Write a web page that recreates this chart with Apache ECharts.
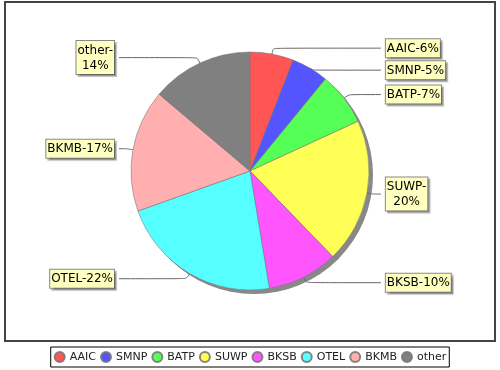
<!DOCTYPE html>
<html>
<head>
<meta charset="utf-8">
<script src="https://cdn.jsdelivr.net/npm/echarts@6/dist/echarts.min.js"></script>
<style>html,body{margin:0;padding:0;background:#fff;}#c{width:500px;height:370px;}</style>
</head>
<body>
<div id="c"></div>
<script>
const categories = ['AAIC','SMNP','BATP','SUWP','BKSB','OTEL','BKMB','other'];
const values = [5.9, 5.0, 7.2, 19.6, 9.6, 22.1, 16.6, 13.8];
const colors = ['#FF5555','#5555FF','#55FF55','#FFFF55','#FF55FF','#55FFFF','#FFAFAF','#808080'];
const wrappedLabels = ['SUWP','other'];

const chart = echarts.init(document.getElementById('c'), null, {renderer:'canvas'});
const font = 'DejaVu Sans';
chart.setOption({
  animation:false,
  backgroundColor:'#fff',
  color: colors,
  graphic:[{type:'rect', shape:{x:5,y:2,width:490,height:339}, style:{fill:'none', stroke:'#444', lineWidth:2}, z:-10}],
  legend:{
    data: categories, left:'center', top:347, icon:'circle', itemWidth:10, itemHeight:10, itemGap:4,
    borderColor:'#000', borderWidth:1, padding:[4,3], textStyle:{fontFamily:font, fontSize:11, color:'#222'}
  },
  series:[
    {
      type:'pie', silent:true, center:[254,175], radius:119, z:1,
      label:{show:false}, labelLine:{show:false},
      itemStyle:{color:'#888'}, data:[{value:1, name:'shadow'}], legendHoverLink:false
    },
    {
      type:'pie', center:[250,171], radius:119, startAngle:90, clockwise:true, z:2,
      itemStyle:{borderColor:'rgba(120,120,120,0.9)', borderWidth:0.6},
      avoidLabelOverlap:true,
      label:{
        show:true, alignTo:'labelLine', fontFamily:font, fontSize:12, color:'#000',
        backgroundColor:'#FFFFC0', borderColor:'#888', borderWidth:1, padding:[2,1,1,1],
        shadowColor:'rgba(0,0,0,0.25)', shadowOffsetX:2, shadowOffsetY:2, shadowBlur:1, lineHeight:15,
        rich:{c:{align:'center', fontFamily:font, fontSize:12, color:'#000', lineHeight:15}},
        formatter:function(p){
          const pct = Math.round(p.percent);
          return wrappedLabels.indexOf(p.name) >= 0 ? '{c|' + p.name + '-}\n{c|' + pct + '%}' : p.name + '-' + pct + '%';
        }
      },
      labelLine:{show:true, length:6, length2:8, smooth:0.3, lineStyle:{color:'#666', width:1}},
      data: categories.map((c,i)=>({name:c, value:values[i]}))
    }
  ]
});
</script>
</body>
</html>
